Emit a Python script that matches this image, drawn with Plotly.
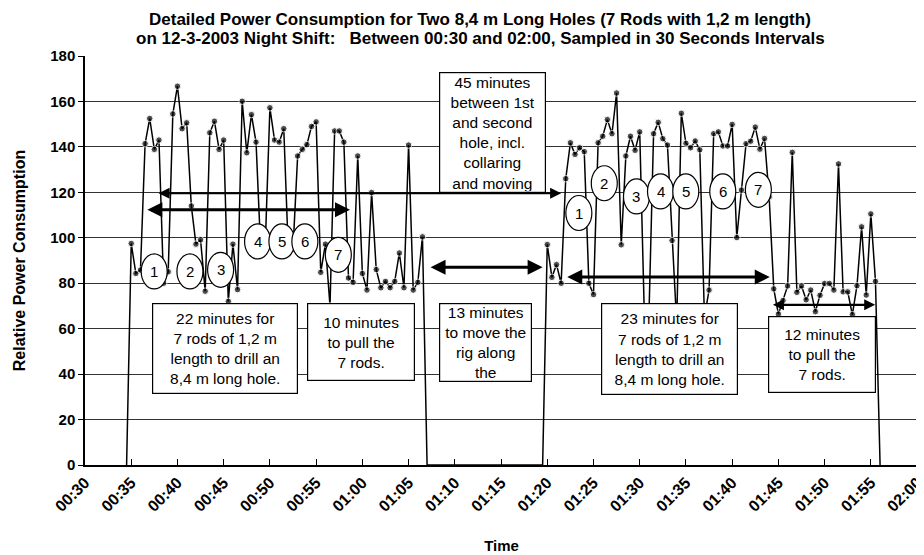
import pandas as pd
import plotly.graph_objects as go

# ---------------- data ----------------
DAY = "2003-03-12"
sample_start = "00:34:30"
sample_end = "01:56:00"
sample_interval = "30s"

# relative power, 30 s samples (first hole: 00:35:00 - 01:06:30)
hole1_power = [97.5, 84.3, 85.8, 141.4, 152.5, 138.9, 143, 80, 85, 154.5,
               166.7, 148, 150.6, 114, 97.2, 99.1, 76.5, 146.2, 151.3, 138.9,
               143, 72, 97.2, 77.2, 160.1, 137.4, 154.2, 142.1, 95, 97,
               157.2, 143, 142.1, 148, 93, 95, 136, 138.9, 141, 149,
               151, 84.8, 97.2, 70, 147, 147, 142.1, 82.3, 80.4, 136,
               84.3, 77, 119.9, 86, 78, 80.8, 78, 80.8, 93.3, 78,
               140.8, 77, 80.4, 100.4]
# rig moving: 01:07:00 - 01:19:30
move_power = [0] * 26
# second hole: 01:20:00 - 01:55:30
hole2_power = [97, 82.6, 88.2, 80, 126, 141.8, 136.7, 139.6, 137.9, 80,
               75, 141.8, 144.7, 152, 145.8, 163.7, 96.9, 136, 144.7, 138.5,
               146.6, 66, 66, 145.8, 150.8, 143.6, 140.8, 98.8, 62, 154.8,
               141.6, 139.6, 142.6, 138.7, 65, 77, 145.8, 146.6, 140.4, 140.4,
               149.9, 100.1, 121, 141.4, 142.5, 148.7, 139, 143.7, 118, 77.5,
               66.4, 72.4, 78.8, 137.6, 76, 78.8, 72.7, 77, 67.5, 74.7,
               79.9, 79.9, 77, 132.5, 76.2, 76.2, 66.2, 78.9, 104.8, 74.8,
               110.5, 80.8]

power = [0] + hole1_power + move_power + hole2_power + [0]
times = pd.date_range(f"{DAY} {sample_start}", f"{DAY} {sample_end}", freq=sample_interval)

rod_labels = ["1", "2", "3", "4", "5", "6", "7"]
hole1_rod_times = ["00:37:29", "00:41:21", "00:44:40", "00:48:40", "00:51:18", "00:53:47", "00:57:24"]
hole1_rod_levels = [85.2, 85.2, 85.9, 98.4, 98.4, 98.4, 92.5]
hole2_rod_times = ["01:23:25", "01:26:10", "01:29:39", "01:32:15", "01:34:59", "01:38:59", "01:42:50"]
hole2_rod_levels = [110.9, 124, 118.2, 120.4, 120.4, 120.4, 121.1]

note_texts = [
    "22 minutes for<br>7 rods of 1,2 m<br>length to drill an<br>8,4 m long hole.",
    "10 minutes<br>to pull the<br>7 rods.",
    "13 minutes<br>to move the<br>rig along<br>the",
    "45 minutes<br>between 1st<br>and second<br>hole, incl.<br>collaring<br>and moving",
    "23 minutes for<br>7 rods of 1,2 m<br>length to drill an<br>8,4 m long hole.",
    "12 minutes<br>to pull the<br>7 rods.",
]
note_times = ["00:45:10", "00:59:49", "01:13:21", "01:14:03", "01:33:13", "01:49:45"]
note_levels = [51.4, 54.1, 54.1, 146.4, 51.1, 48.7]
note_sizes = [(146, 91), (108, 78), (93, 79), (107, 121), (137, 92), (108, 77)]

span_starts = ["00:37:48", "00:36:35", "01:07:13", "01:22:00", "01:44:15"]
span_ends = ["01:21:30", "00:58:40", "01:19:30", "01:44:04", "01:55:28"]
span_levels = [119.6, 112.3, 87, 82.7, 70.5]
span_widths = [2.2, 3, 3, 3, 2.2]

x_range = ["00:30:00", "02:00:06"]

title_lines = [
    "Detailed Power Consumption for Two 8,4 m Long Holes (7 Rods with 1,2 m length)",
    "on 12-3-2003 Night Shift:   Between 00:30 and 02:00, Sampled in 30 Seconds Intervals",
]

# ---------------- figure ----------------
FONT = "Liberation Sans"


def ts(hms):
    return f"{DAY} {hms}"


fig = go.Figure()
fig.add_trace(go.Scatter(
    x=times, y=power, mode="lines+markers",
    line=dict(color="black", width=1.5),
    marker=dict(color="black", size=[0 if v == 0 else 6.5 for v in power]),
    showlegend=False, hoverinfo="skip",
))

shapes = []
annotations = []

# rod-change circles
for t_list, lv_list in ((hole1_rod_times, hole1_rod_levels), (hole2_rod_times, hole2_rod_levels)):
    for lab, t, lv in zip(rod_labels, t_list, lv_list):
        shapes.append(dict(type="circle", xref="x", yref="y",
                           xsizemode="pixel", ysizemode="pixel",
                           xanchor=ts(t), yanchor=lv,
                           x0=-13, x1=13, y0=-17.5, y1=17.5,
                           fillcolor="white", line=dict(color="black", width=1.2),
                           layer="above"))
        annotations.append(dict(x=ts(t), y=lv, xref="x", yref="y", text=lab,
                                showarrow=False,
                                font=dict(family=FONT, size=15, color="black")))

# duration arrows
for s, e, lv, w in zip(span_starts, span_ends, span_levels, span_widths):
    annotations.append(dict(x=ts(e), y=lv, ax=ts(s), ay=lv,
                            xref="x", yref="y", axref="x", ayref="y",
                            text="", showarrow=True, arrowside="end+start",
                            arrowhead=2, startarrowhead=2,
                            arrowsize=1.0, startarrowsize=1.0,
                            arrowwidth=w, arrowcolor="black",
                            standoff=0, startstandoff=0))

# text boxes
for txt, t, lv, (w, h) in zip(note_texts, note_times, note_levels, note_sizes):
    annotations.append(dict(x=ts(t), y=lv, xref="x", yref="y", text=txt,
                            showarrow=False, align="center", valign="middle",
                            width=w - 4, height=h - 4, borderpad=1,
                            bgcolor="white", bordercolor="black", borderwidth=1.2,
                            font=dict(family=FONT, size=15.5, color="black")))

# title (two lines, placed separately to keep the line spacing tight)
for line, centre_px in zip(title_lines, (11.5, 30.5)):
    annotations.append(dict(x=(480 - 85) / 833, y=1 + (48 - centre_px) / 409.5,
                            xref="paper", yref="paper", xanchor="center", yanchor="middle",
                            text=line, showarrow=False, align="center", borderpad=0,
                            font=dict(family=FONT, size=17, weight="bold", color="black")))

# the page is drawn with an 8 px body margin, so the figure is sized to the visible area
fig.update_layout(
    width=916, height=547,
    margin=dict(l=77, r=6, t=48, b=90, autoexpand=False),
    paper_bgcolor="white", plot_bgcolor="white",
    font=dict(family=FONT, color="black"),
    shapes=shapes,
    annotations=annotations,
)

fig.update_xaxes(
    type="date", range=[ts(x_range[0]), ts(x_range[1])], automargin=False,
    dtick=5 * 60 * 1000, tick0=ts("00:30"), tickformat="%H:%M", tickangle=-45,
    ticklabeloverflow="allow",
    showgrid=False, showline=True, linecolor="black", linewidth=2,
    ticks="inside", ticklen=6, tickcolor="black",
    tickfont=dict(family=FONT, size=16, weight="bold", color="black"),
    title=dict(text="Time", standoff=27,
               font=dict(family=FONT, size=15, weight="bold", color="black")),
)
fig.update_yaxes(
    range=[0, 180], dtick=20, automargin=False,
    showgrid=True, gridcolor="#333333", gridwidth=1,
    zeroline=True, zerolinecolor="black", zerolinewidth=2,
    showline=True, linecolor="black", linewidth=1.5,
    ticks="outside", ticklen=5, tickcolor="black",
    tickfont=dict(family=FONT, size=15, weight="bold", color="black"),
    title=dict(text="Relative Power Consumption", standoff=21,
               font=dict(family=FONT, size=16, weight="bold", color="black")),
)

fig.write_html("out.html")
